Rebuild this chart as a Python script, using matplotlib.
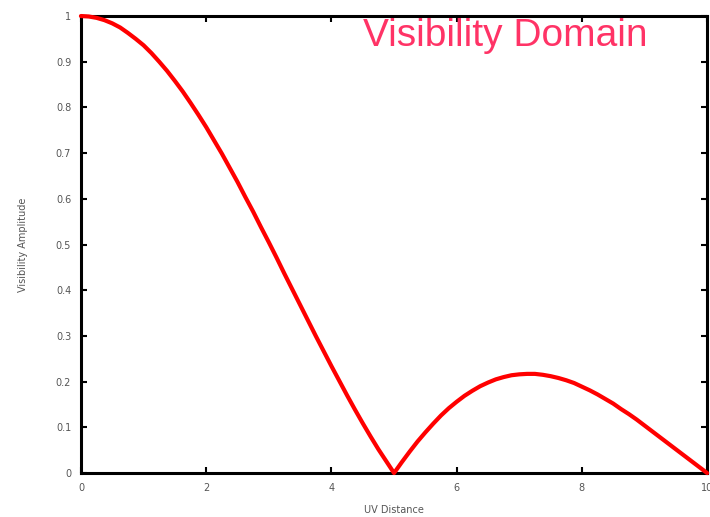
import matplotlib
matplotlib.use("Agg")
import matplotlib.pyplot as plt

# Visibility amplitude sampled along UV distance
uv_distance = [0.0, 0.125, 0.25, 0.375, 0.5, 0.625, 0.75, 0.875,
               1.0, 1.125, 1.25, 1.375, 1.5, 1.625, 1.75, 1.875,
               2.0, 2.125, 2.25, 2.375, 2.5, 2.625, 2.75, 2.875,
               3.0, 3.125, 3.25, 3.375, 3.5, 3.625, 3.75, 3.875,
               4.0, 4.125, 4.25, 4.375, 4.5, 4.625, 4.75, 4.875,
               5.0, 5.125, 5.25, 5.375, 5.5, 5.625, 5.75, 5.875,
               6.0, 6.125, 6.25, 6.375, 6.5, 6.625, 6.75, 6.875,
               7.0, 7.125, 7.25, 7.375, 7.5, 7.625, 7.75, 7.875,
               8.0, 8.125, 8.25, 8.375, 8.5, 8.625, 8.75, 8.875,
               9.0, 9.125, 9.25, 9.375, 9.5, 9.625, 9.75, 9.875, 10.0]
amplitude = [1.000, 0.999, 0.996, 0.991, 0.984, 0.975, 0.963, 0.950,
             0.936, 0.919, 0.900, 0.880, 0.858, 0.835, 0.810, 0.784,
             0.757, 0.728, 0.699, 0.668, 0.637, 0.604, 0.572, 0.538,
             0.505, 0.471, 0.436, 0.402, 0.368, 0.334, 0.300, 0.267,
             0.234, 0.202, 0.170, 0.139, 0.109, 0.080, 0.052, 0.026,
             0.000, 0.024, 0.047, 0.069, 0.089, 0.108, 0.126, 0.142,
             0.156, 0.169, 0.180, 0.190, 0.198, 0.205, 0.210, 0.214,
             0.216, 0.217, 0.217, 0.215, 0.212, 0.208, 0.203, 0.197,
             0.189, 0.181, 0.172, 0.162, 0.152, 0.140, 0.129, 0.117,
             0.104, 0.091, 0.078, 0.065, 0.052, 0.039, 0.026, 0.013, 0.000]

x_ticks = [0, 2, 4, 6, 8, 10]
y_ticks = [0, 0.1, 0.2, 0.3, 0.4, 0.5, 0.6, 0.7, 0.8, 0.9, 1]
y_tick_labels = ["0", "0.1", "0.2", "0.3", "0.4", "0.5", "0.6", "0.7", "0.8", "0.9", "1"]

fig = plt.figure(figsize=(7.10, 5.17), dpi=100)
ax = fig.add_axes([0.114, 0.085, 0.882, 0.884])

ax.plot(uv_distance, amplitude, color="#ff0000", linewidth=3, solid_capstyle="round",
        clip_on=False, zorder=3)

ax.set_xlim(0, 10)
ax.set_ylim(0, 1)
ax.set_xticks(x_ticks)
ax.set_xticklabels([str(t) for t in x_ticks])
ax.set_yticks(y_ticks)
ax.set_yticklabels(y_tick_labels)

for spine in ax.spines.values():
    spine.set_linewidth(2.2)
    spine.set_color("black")

ax.tick_params(direction="in", length=4, width=1.5, top=True, right=True,
               labelsize=7, labelcolor="#555555", pad=7)

ax.set_xlabel("UV Distance", fontsize=7, color="#555555", labelpad=9)
ax.set_ylabel("Visibility Amplitude", fontsize=7, color="#555555", labelpad=20)

ax.text(0.451, 0.995, "Visibility Domain", transform=ax.transAxes,
        fontsize=28, color="#ff3366", family="Liberation Sans",
        ha="left", va="top")

fig.savefig("out.png", dpi=100)
